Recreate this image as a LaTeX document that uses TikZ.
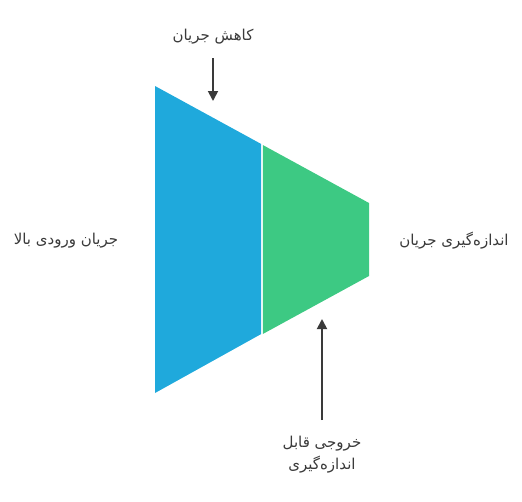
\documentclass[tikz,border=0pt]{standalone}
\usepackage{fontspec}
\TeXXeTstate=1
\newfontfamily\arabicfont[Script=Arabic]{DejaVu Sans}
\usetikzlibrary{arrows.meta}
\definecolor{cblue}{HTML}{1FA9DC}
\definecolor{cgreen}{HTML}{3DC983}
\definecolor{ctext}{HTML}{3A3A3A}
\tikzset{
  lbl/.style={text=ctext,font=\arabicfont\fontsize{15}{22}\selectfont,align=center,inner sep=0pt},
  arr/.style={draw=ctext,line width=1.8pt,-{Triangle[length=10pt,width=10pt]}}
}
\begin{document}
\begin{tikzpicture}[x=1pt,y=-1pt]
\useasboundingbox (0,0) rectangle (522,501);
\fill[cblue] (155,86) -- (261.2,144) -- (261.2,334) -- (155,393) -- cycle;
\fill[cgreen] (262.8,145) -- (369,203) -- (369,276) -- (262.8,334) -- cycle;
\node[lbl] (top) at (213,37) {\beginR کاهش جریان\endR};
\coordinate (ta) at (213,58);
\coordinate (tb) at (213,101);
\draw[arr] (ta) -- (tb);
\node[lbl] (left) at (66,241) {\beginR جریان ورودی بالا\endR};
\node[lbl] (right) at (454,241) {\beginR اندازه‌گیری جریان\endR};
\node[lbl] (bot) at (322,455) {\beginR خروجی قابل\endR\\\beginR اندازه‌گیری\endR};
\coordinate (ba) at (322,420);
\coordinate (bb) at (322,319);
\draw[arr] (ba) -- (bb);
\end{tikzpicture}
\end{document}
